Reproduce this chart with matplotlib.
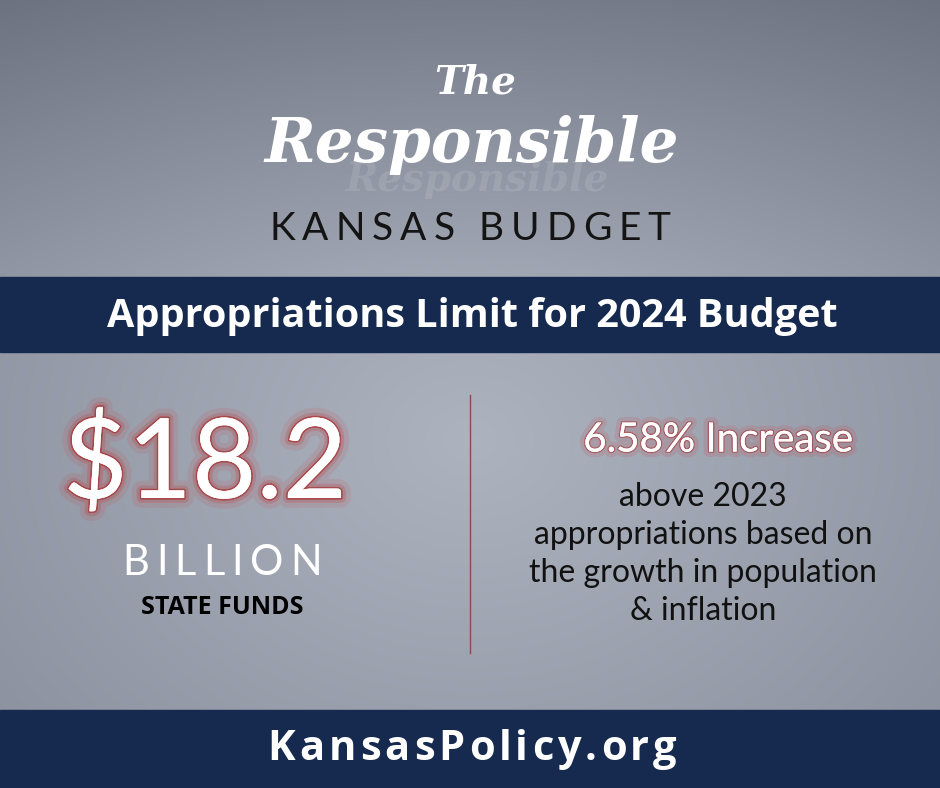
import numpy as np
import matplotlib.pyplot as plt
import matplotlib.patheffects as pe
from matplotlib.textpath import TextPath
from matplotlib.font_manager import FontProperties

# content
title_top = "The"
title_script = "Responsible"
title_sub = "KANSAS BUDGET"
band_text = "Appropriations Limit for 2024 Budget"
amount = 18.2
amount_unit = "BILLION"
amount_note = "STATE FUNDS"
pct_increase = 6.58
pct_lines = ["above 2023", "appropriations based on", "the growth in population", "& inflation"]
footer = "KansasPolicy.org"

W, H = 940, 788
fig = plt.figure(figsize=(W / 100, H / 100), dpi=100)
ax = fig.add_axes([0, 0, 1, 1])
ax.set_xlim(0, W)
ax.set_ylim(H, 0)
ax.axis('off')


def spaced(x, y, s, size, spacing, **kw):
    # draw text char by char with extra tracking, centred on x
    fp = FontProperties(family=kw.get('family'), weight=kw.get('fontweight', 'normal'))
    scale = size / 72 * 100  # points -> pixels at dpi 100
    base = TextPath((0, 0), 'aa', size=1, prop=fp).get_extents().width
    widths = []
    for ch in s:
        adv = TextPath((0, 0), 'a' + ch + 'a', size=1, prop=fp).get_extents().width - base
        widths.append(adv * scale + spacing)
    total = sum(widths) - spacing
    cx = x - total / 2
    for ch, w in zip(s, widths):
        ax.text(cx + (w - spacing) / 2, y, ch, fontsize=size, ha='center', va='center', **kw)
        cx += w


# gray gradient background, darker near the top
yy, xx = np.mgrid[0:H, 0:W]
d = np.sqrt(((xx - 470) / 600) ** 2 + ((yy - 440) / 480) ** 2)
top = np.clip(1 - yy / 280, 0, 1) * 0.25
lev = np.clip(1 - 0.35 * d - top, 0, 1)
c0 = np.array([0.30, 0.33, 0.38])
c1 = np.array([0.68, 0.70, 0.75])
img = c0 + (c1 - c0) * lev[..., None]
ax.imshow(img, extent=[0, W, H, 0], zorder=0)

navy = '#152a4e'
ax.add_patch(plt.Rectangle((0, 277), W, 75, color=navy, zorder=1))
ax.add_patch(plt.Rectangle((0, 710), W, 78, color=navy, zorder=1))

ax.text(475, 82, title_top, fontsize=28, color='white', fontweight='bold',
        fontstyle='italic', ha='center', va='center', family='DejaVu Serif')
ax.text(478, 180, title_script, fontsize=28, color='#d8dbe0', alpha=0.18,
        fontweight='bold', fontstyle='italic', ha='center', va='center', family='DejaVu Serif')
ax.text(472, 145, title_script, fontsize=44, color='white', fontweight='bold',
        fontstyle='italic', ha='center', va='center', family='DejaVu Serif')
spaced(470, 229, title_sub, 28, 7, color='#141414', family='Lato')
ax.text(472, 316, band_text, fontsize=28.5, color='white', fontweight='bold',
        ha='center', va='center', family='Open Sans')

glow = [pe.withStroke(linewidth=14, foreground=(0.8, 0.25, 0.25, 0.12)),
        pe.withStroke(linewidth=7, foreground=(0.75, 0.2, 0.2, 0.22)),
        pe.withStroke(linewidth=2.5, foreground=(0.65, 0.15, 0.15, 0.6)),
        pe.Normal()]
ax.text(205, 465, f"${amount}", fontsize=80, color='white', ha='center', va='center',
        family='Lato', path_effects=glow)
spaced(222, 563, amount_unit, 30, 7, color='white', family='Lato')
ax.text(222, 607, amount_note, fontsize=18, color='black', fontweight='bold',
        ha='center', va='center', family='Open Sans')

ax.plot([470, 470], [395, 653], color='#8a4a50', lw=1, zorder=2)

glow2 = [pe.withStroke(linewidth=8, foreground=(0.8, 0.25, 0.25, 0.15)),
         pe.withStroke(linewidth=2, foreground=(0.65, 0.15, 0.15, 0.5)),
         pe.Normal()]
ax.text(718, 440, f"{pct_increase}% Increase", fontsize=29, color='white', ha='center',
        va='center', family='Lato', path_effects=glow2)
for i, line in enumerate(pct_lines):
    ax.text(703, 497 + i * 38, line, fontsize=23, color='#111111', ha='center',
            va='center', family='Lato')

spaced(472, 750, footer, 30, 4, color='white', fontweight='bold', family='Open Sans')

fig.savefig('out.png', dpi=100)
